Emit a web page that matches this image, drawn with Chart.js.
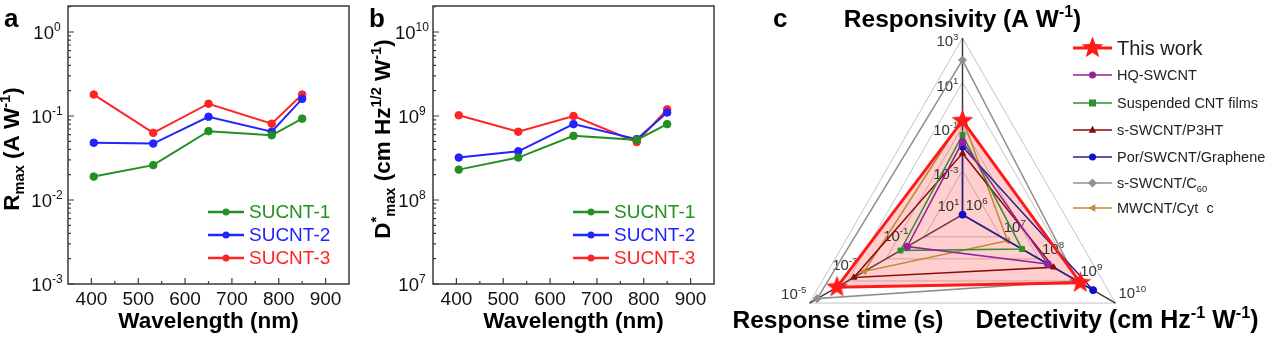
<!DOCTYPE html>
<html>
<head>
<meta charset="utf-8">
<script src="https://cdn.jsdelivr.net/npm/chart.js@4.4.0/dist/chart.umd.min.js"></script>
<style>
  html, body { margin: 0; padding: 0; background: #fff; width: 1265px; height: 337px; overflow: hidden; }
  canvas { position: absolute; top: 0; }
  #chartA { left: 0; }
  #chartB { left: 365px; }
  #chartC { left: 720px; }
</style>
</head>
<body>
<canvas id="chartA" width="365" height="337"></canvas>
<canvas id="chartB" width="365" height="337"></canvas>
<canvas id="chartC" width="545" height="337"></canvas>
<script>
// ---- panels a / b data
const wavelength = [405, 532, 650, 785, 850];
const sampleNames = ['SUCNT-1', 'SUCNT-2', 'SUCNT-3'];
const sampleColors = ['#239023', '#2323ff', '#ff2323'];
const rmax1 = [0.019, 0.026, 0.066, 0.059, 0.093];
const rmax2 = [0.048, 0.047, 0.098, 0.065, 0.16];
const rmax3 = [0.18, 0.063, 0.14, 0.081, 0.18];
const dmax1 = [2.3e8, 3.2e8, 5.8e8, 5.2e8, 8.0e8];
const dmax2 = [3.2e8, 3.8e8, 8.0e8, 5.3e8, 1.1e9];
const dmax3 = [1.02e9, 6.5e8, 1.0e9, 4.9e8, 1.2e9];
const wlTicks = [400, 500, 600, 700, 800, 900];
const rmaxExp = [-3, -2, -1, 0];
const dmaxExp = [7, 8, 9, 10];

// ---- panel c data
const devices = ['This work', 'HQ-SWCNT', 'Suspended CNT films', 's-SWCNT/P3HT', 'Por/SWCNT/Graphene', 's-SWCNT/C60', 'MWCNT/Cyt  c'];
const responsivity = [0.18, 0.02, 0.04, 0.006, 0.012, 100, 0.22];        // A/W
const detectivity = [1.2e9, 1.7e8, 3.6e7, 2.4e8, 2.6e9, 1.0e9, 1.5e7];   // Jones
const responseTime = [1.2e-4, 0.068, 0.037, 5.5e-4, 10, 2e-5, 1.4e-3];   // s
const radarAxes = ['Responsivity', 'Detectivity', 'Response time'];
const respExp = [-3, -1, 1, 3];
const detExp = [6, 7, 8, 9, 10];
const timeExp = [1, -1, -3, -5];
const deviceColors = ['#ff1a1a', '#93239b', '#2f8f2f', '#8a0a0a', '#25258f', '#8f8f8f', '#c3872e'];
const pointColors = ['#ff1a1a', '#93239b', '#2f8f2f', '#8a0a0a', '#1010c8', '#8f8f8f', '#c3872e'];
const deviceMarkers = ['star', 'circle', 'rect', 'triangle', 'circle', 'rectRot', 'triangle'];
const markerRot = [0, 0, 0, 0, 0, 0, -90];

const FONT = '"Liberation Sans", Arial, Helvetica, sans-serif';

function setFont(ctx, size, bold) {
  ctx.font = (bold ? 'bold ' : '') + size + 'px ' + FONT;
}
function richWidth(ctx, segs, fs, bold) {
  let w = 0;
  segs.forEach(([t, k]) => { setFont(ctx, k ? fs * 0.65 : fs, bold); w += ctx.measureText(t).width; });
  return w;
}
function drawRich(ctx, segs, x, y, fs, align, bold, color) {
  const w = richWidth(ctx, segs, fs, bold);
  let cx = align === 'center' ? x - w / 2 : align === 'right' ? x - w : x;
  ctx.fillStyle = color;
  ctx.textAlign = 'left';
  ctx.textBaseline = 'alphabetic';
  segs.forEach(([t, k]) => {
    setFont(ctx, k ? fs * 0.65 : fs, bold);
    const dy = k === 'sup' ? -fs * 0.42 : k === 'sub' ? fs * 0.24 : 0;
    ctx.fillText(t, cx, y + dy);
    cx += ctx.measureText(t).width;
  });
}
function powSegs(e) {
  return [['10', ''], [String(e), 'sup']];
}

function starPath(g, cx, cy, R, r) {
  g.beginPath();
  for (let k = 0; k < 10; k++) {
    const a = -Math.PI / 2 + k * Math.PI / 5;
    const rad = k % 2 ? r : R;
    g.lineTo(cx + rad * Math.cos(a), cy + rad * Math.sin(a));
  }
  g.closePath();
}
function makeStar(R, color) {
  const c = document.createElement('canvas');
  c.width = c.height = Math.ceil(R * 2 + 2);
  const g = c.getContext('2d');
  starPath(g, c.width / 2, c.height / 2, R, R * 0.42);
  g.fillStyle = color;
  g.fill();
  return c;
}
function drawMarker(ctx, style, x, y, r, color, rot) {
  ctx.save();
  ctx.translate(x, y);
  ctx.rotate((rot || 0) * Math.PI / 180);
  ctx.fillStyle = color;
  ctx.beginPath();
  if (style === 'circle') ctx.arc(0, 0, r, 0, Math.PI * 2);
  else if (style === 'rect') ctx.rect(-r, -r, 2 * r, 2 * r);
  else if (style === 'rectRot') { ctx.moveTo(0, -r * 1.3); ctx.lineTo(r * 1.3, 0); ctx.lineTo(0, r * 1.3); ctx.lineTo(-r * 1.3, 0); ctx.closePath(); }
  else if (style === 'triangle') { ctx.moveTo(0, -r * 1.2); ctx.lineTo(r * 1.1, r * 0.8); ctx.lineTo(-r * 1.1, r * 0.8); ctx.closePath(); }
  else if (style === 'star') starPath(ctx, 0, 0, r, r * 0.42);
  ctx.fill();
  ctx.restore();
}

// ---- line panels
function linePanel(id, series, yMin, yMax, exps, letter, yTitle, yTitleX, yTitleY) {
  const datasets = series.map((vals, i) => ({
    label: sampleNames[i],
    data: wavelength.map((w, j) => ({ x: w, y: vals[j] })),
    borderColor: sampleColors[i],
    backgroundColor: sampleColors[i],
    pointBackgroundColor: sampleColors[i],
    pointBorderColor: sampleColors[i],
    borderWidth: 2,
    pointRadius: 3.8,
    pointBorderWidth: 1,
    tension: 0
  }));

  const deco = {
    id: 'deco',
    afterDraw(chart) {
      const ctx = chart.ctx;
      const a = chart.chartArea;
      const xs = chart.scales.x, ys = chart.scales.y;
      ctx.save();
      ctx.strokeStyle = '#3a3a3a';
      ctx.lineWidth = 1.5;
      ctx.strokeRect(a.left, a.top, a.right - a.left, a.bottom - a.top);

      // x ticks (inward)
      ctx.lineWidth = 1.2;
      ctx.beginPath();
      wlTicks.forEach((v, i) => {
        const px = xs.getPixelForValue(v);
        ctx.moveTo(px, a.bottom); ctx.lineTo(px, a.bottom - 6);
        if (i < wlTicks.length - 1) {
          const pm = xs.getPixelForValue((v + wlTicks[i + 1]) / 2);
          ctx.moveTo(pm, a.bottom); ctx.lineTo(pm, a.bottom - 3);
        }
      });
      // y ticks (inward), log minors
      exps.forEach(e => {
        const py = ys.getPixelForValue(Math.pow(10, e));
        ctx.moveTo(a.left, py); ctx.lineTo(a.left + 6, py);
        for (let k = 2; k <= 9; k++) {
          const v = k * Math.pow(10, e);
          if (v > yMax) break;
          const pm = ys.getPixelForValue(v);
          ctx.moveTo(a.left, pm); ctx.lineTo(a.left + 3, pm);
        }
      });
      ctx.stroke();

      // tick labels
      setFont(ctx, 19, false);
      ctx.fillStyle = '#111';
      ctx.textAlign = 'center';
      ctx.textBaseline = 'middle';
      wlTicks.forEach(v => ctx.fillText(String(v), xs.getPixelForValue(v), 300));
      exps.forEach(e => {
        drawRich(ctx, powSegs(e), 47, ys.getPixelForValue(Math.pow(10, e)) + 7, 18.5, 'center', false, '#111');
      });

      // axis titles
      drawRich(ctx, [['Wavelength (nm)', '']], (a.left + a.right) / 2, 328, 22.5, 'center', true, '#000');
      ctx.save();
      ctx.translate(yTitleX, yTitleY);
      ctx.rotate(-Math.PI / 2);
      drawRich(ctx, yTitle, 0, 0, 22.5, 'center', true, '#000');
      ctx.restore();

      // panel letter
      setFont(ctx, 26, true);
      ctx.fillStyle = '#000';
      ctx.textAlign = 'left';
      ctx.textBaseline = 'alphabetic';
      ctx.fillText(letter, 4, 27);

      // legend
      sampleNames.forEach((name, i) => {
        const y = 212 + i * 23;
        ctx.strokeStyle = sampleColors[i];
        ctx.lineWidth = 2.5;
        ctx.beginPath();
        ctx.moveTo(a.right - 141, y); ctx.lineTo(a.right - 105, y);
        ctx.stroke();
        drawMarker(ctx, 'circle', a.right - 123, y, 3.5, sampleColors[i], 0);
        setFont(ctx, 19, false);
        ctx.fillStyle = sampleColors[i];
        ctx.textBaseline = 'middle';
        ctx.fillText(name, a.right - 100, y + 1);
      });
      ctx.restore();
    }
  };

  new Chart(document.getElementById(id), {
    type: 'line',
    data: { datasets },
    options: {
      responsive: false,
      animation: false,
      events: [],
      layout: { padding: { left: 0, top: 6, right: 16, bottom: 0 } },
      plugins: { legend: { display: false }, tooltip: { enabled: false } },
      scales: {
        x: {
          type: 'linear', min: 350, max: 950,
          ticks: { display: false }, grid: { display: false }, border: { display: false },
          afterFit: s => { s.height = 53; }
        },
        y: {
          type: 'logarithmic', min: yMin, max: yMax,
          ticks: { display: false }, grid: { display: false }, border: { display: false },
          afterFit: s => { s.width = 68; }
        }
      }
    },
    plugins: [deco]
  });
}

linePanel('chartA', [rmax1, rmax2, rmax3], 1e-3, 2.04, rmaxExp, 'a',
  [['R', ''], ['max', 'sub'], [' (A W', ''], ['-1', 'sup'], [')', '']], 19, 149);
linePanel('chartB', [dmax1, dmax2, dmax3], 1e7, 2.04e10, dmaxExp, 'b',
  [['D', ''], ['*', 'sup'], ['max', 'sub'], [' (cm Hz', ''], ['1/2', 'sup'], [' W', ''], ['-1', 'sup'], [')', '']], 25, 139);

// ---- radar panel
const respRange = [-5, 3];
const detRange = [6, 10];
const timeRange = [1, -5];
function norm(v, range) {
  return (Math.log10(v) - range[0]) / (range[1] - range[0]);
}

const starImg = makeStar(11.5, '#ff1a1a');
const radarSets = devices.map((name, i) => ({
  label: name,
  data: [norm(responsivity[i], respRange), norm(detectivity[i], detRange), norm(responseTime[i], timeRange)],
  borderColor: deviceColors[i],
  backgroundColor: i === 0 ? 'rgba(255,30,30,0.22)' : deviceColors[i],
  fill: i === 0,
  borderWidth: i === 0 ? 3 : 1.5,
  pointStyle: i === 0 ? starImg : deviceMarkers[i],
  pointRotation: markerRot[i],
  pointRadius: deviceMarkers[i] === 'rectRot' ? 4 : 3.5,
  pointBackgroundColor: pointColors[i],
  pointBorderColor: pointColors[i],
  pointBorderWidth: 1
}));

const radarDeco = {
  id: 'radarDeco',
  beforeDatasetsDraw(chart) {
    const ctx = chart.ctx;
    const r = chart.scales.r;
    ctx.save();
    const fs = 15;
    // responsivity (top axis), skip centre
    respExp.forEach((e, k) => {
      const p = r.getPointPositionForValue(0, (k + 1) / 4);
      drawRich(ctx, powSegs(e), p.x - 4, p.y + 3 + fs * 0.36, fs, 'right', false, '#333');
    });
    // detectivity (lower right axis)
    detExp.forEach((e, k) => {
      const p = r.getPointPositionForValue(1, k / 4);
      drawRich(ctx, powSegs(e), p.x + 3, p.y - 10 + fs * 0.36, fs, 'left', false, '#333');
    });
    // response time (lower left axis)
    timeExp.forEach((e, k) => {
      const p = r.getPointPositionForValue(2, k / 3);
      drawRich(ctx, powSegs(e), p.x - 3, p.y - 9 + fs * 0.36, fs, 'right', false, '#333');
    });
    ctx.restore();
  },
  afterDraw(chart) {
    const ctx = chart.ctx;
    const r = chart.scales.r;
    ctx.save();
    drawRich(ctx, [['Responsivity (A W', ''], ['-1', 'sup'], [')', '']], r.xCenter, 27, 24.5, 'center', true, '#000');
    drawRich(ctx, [['Response time (s)', '']], 118, 328, 24.5, 'center', true, '#000');
    drawRich(ctx, [['Detectivity (cm Hz', ''], ['-1', 'sup'], [' W', ''], ['-1', 'sup'], [')', '']], 397, 328, 25, 'center', true, '#000');
    setFont(ctx, 26, true);
    ctx.fillStyle = '#000';
    ctx.textAlign = 'left';
    ctx.textBaseline = 'alphabetic';
    ctx.fillText('c', 53, 27);

    // legend
    const rows = [48, 75, 103, 130, 157, 183, 208];
    devices.forEach((name, i) => {
      const y = rows[i];
      ctx.strokeStyle = deviceColors[i];
      ctx.lineWidth = i === 0 ? 3 : 1.5;
      ctx.beginPath();
      ctx.moveTo(353, y); ctx.lineTo(392, y);
      ctx.stroke();
      drawMarker(ctx, deviceMarkers[i], 372.5, y, i === 0 ? 11.5 : 3.5, pointColors[i], markerRot[i]);
      const segs = name === 's-SWCNT/C60' ? [['s-SWCNT/C', ''], ['60', 'sub']] : [[name, '']];
      const fs = i === 0 ? 20 : 14.5;
      drawRich(ctx, segs, 397, y + fs * 0.36, fs, 'left', false, '#222');
    });
    ctx.restore();
  }
};

new Chart(document.getElementById('chartC'), {
  type: 'radar',
  data: { labels: radarAxes, datasets: radarSets },
  options: {
    responsive: false,
    animation: false,
    events: [],
    plugins: {
      legend: { display: false },
      tooltip: { enabled: false },
      filler: { drawTime: 'beforeDatasetsDraw' }
    },
    elements: { line: { tension: 0 } },
    scales: {
      r: {
        min: 0, max: 1,
        ticks: { display: false, stepSize: 0.25 },
        pointLabels: { display: false },
        grid: { color: '#c4c4c4', lineWidth: 1 },
        angleLines: { color: '#3c3c3c', lineWidth: 1.5 },
        afterFit: s => { s.xCenter = 242.5; s.yCenter = 214.7; s.drawingArea = 176.7; }
      }
    }
  },
  plugins: [radarDeco]
});
</script>
</body>
</html>
